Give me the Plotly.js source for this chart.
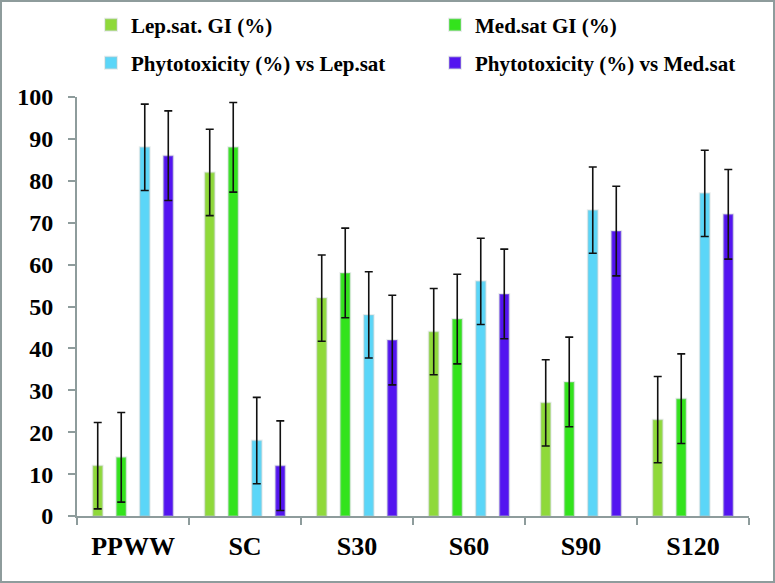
<!DOCTYPE html>
<html>
<head>
<meta charset="utf-8">
<script src="https://cdn.plot.ly/plotly-3.0.1.min.js"></script>
<style>
  body { margin: 0; background: #fff; }
  #plot { width: 771px; height: 579px; border: 2px solid #8e9c9c; }
</style>
</head>
<body>
<div id="plot"></div>
<script>
const categories = ["PPWW", "SC", "S30", "S60", "S90", "S120"];

const lepGI = [12, 82, 52, 44, 27, 23];
const medGI = [14, 88, 58, 47, 32, 28];
const phytoLep = [88, 18, 48, 56, 73, 77];
const phytoMed = [86, 12, 42, 53, 68, 72];

const lepErr = [10.3, 10.3, 10.3, 10.3, 10.3, 10.3];
const medErr = [10.7, 10.7, 10.7, 10.7, 10.7, 10.7];
const phytoLepErr = [10.3, 10.3, 10.3, 10.3, 10.3, 10.3];
const phytoMedErr = [10.7, 10.7, 10.7, 10.7, 10.7, 10.7];

const fontFam = "Liberation Serif, Times New Roman, serif";

const W = 771, H = 579;

function barTrace(name, values, errors, color, legend) {
  return {
    type: "bar",
    name: name,
    x: categories,
    y: values,
    legend: legend,
    marker: {
      color: color,
      line: { color: "rgba(190,200,200,0.35)", width: 2 }
    },
    error_y: {
      type: "data",
      array: errors,
      visible: true,
      color: "#111",
      thickness: 1.6,
      width: 4
    }
  };
}

const traces = [
  barTrace("Lep.sat. GI (%)", lepGI, lepErr, "#8fd93a", "legend"),
  barTrace("Med.sat GI (%)", medGI, medErr, "#33e31c", "legend2"),
  barTrace("Phytotoxicity (%) vs Lep.sat", phytoLep, phytoLepErr, "#5bd6f8", "legend3"),
  barTrace("Phytotoxicity (%) vs Med.sat", phytoMed, phytoMedErr, "#5314f0", "legend4")
];

// legend placed in container pixels (left edge, vertical middle)
function legendAt(px, py) {
  return {
    orientation: "h",
    xref: "container",
    yref: "container",
    xanchor: "left",
    yanchor: "middle",
    x: px / W,
    y: 1 - py / H,
    font: { family: fontFam, size: 21, color: "#000", weight: "bold" },
    bgcolor: "rgba(0,0,0,0)",
    borderwidth: 0
  };
}

const layout = {
  width: W,
  height: H,
  margin: { l: 75, r: 24, t: 95, b: 65 },
  paper_bgcolor: "#fff",
  plot_bgcolor: "#fff",
  font: { family: fontFam, color: "#000" },
  barmode: "group",
  bargap: 0.16,
  bargroupgap: 0.58,
  showlegend: true,
  legend: legendAt(89, 23),
  legend2: legendAt(433, 23),
  legend3: legendAt(89, 61),
  legend4: legendAt(433, 61),
  xaxis: {
    type: "category",
    showline: true,
    linecolor: "#8e9c9c",
    linewidth: 2,
    ticks: "outside",
    tickson: "boundaries",
    ticklen: 7,
    tickcolor: "#8e9c9c",
    tickwidth: 2,
    ticklabelstandoff: 6,
    tickfont: { family: fontFam, size: 26, color: "#000", weight: "bold" },
    showgrid: false,
    zeroline: false
  },
  yaxis: {
    range: [0, 100],
    dtick: 10,
    showline: true,
    linecolor: "#8e9c9c",
    linewidth: 2,
    ticks: "outside",
    ticklen: 7,
    tickcolor: "#8e9c9c",
    tickwidth: 2,
    ticklabelstandoff: 10,
    tickfont: { family: fontFam, size: 24, color: "#000", weight: "bold" },
    showgrid: false,
    zeroline: false
  }
};

Plotly.newPlot("plot", traces, layout, { displayModeBar: false });
</script>
</body>
</html>
